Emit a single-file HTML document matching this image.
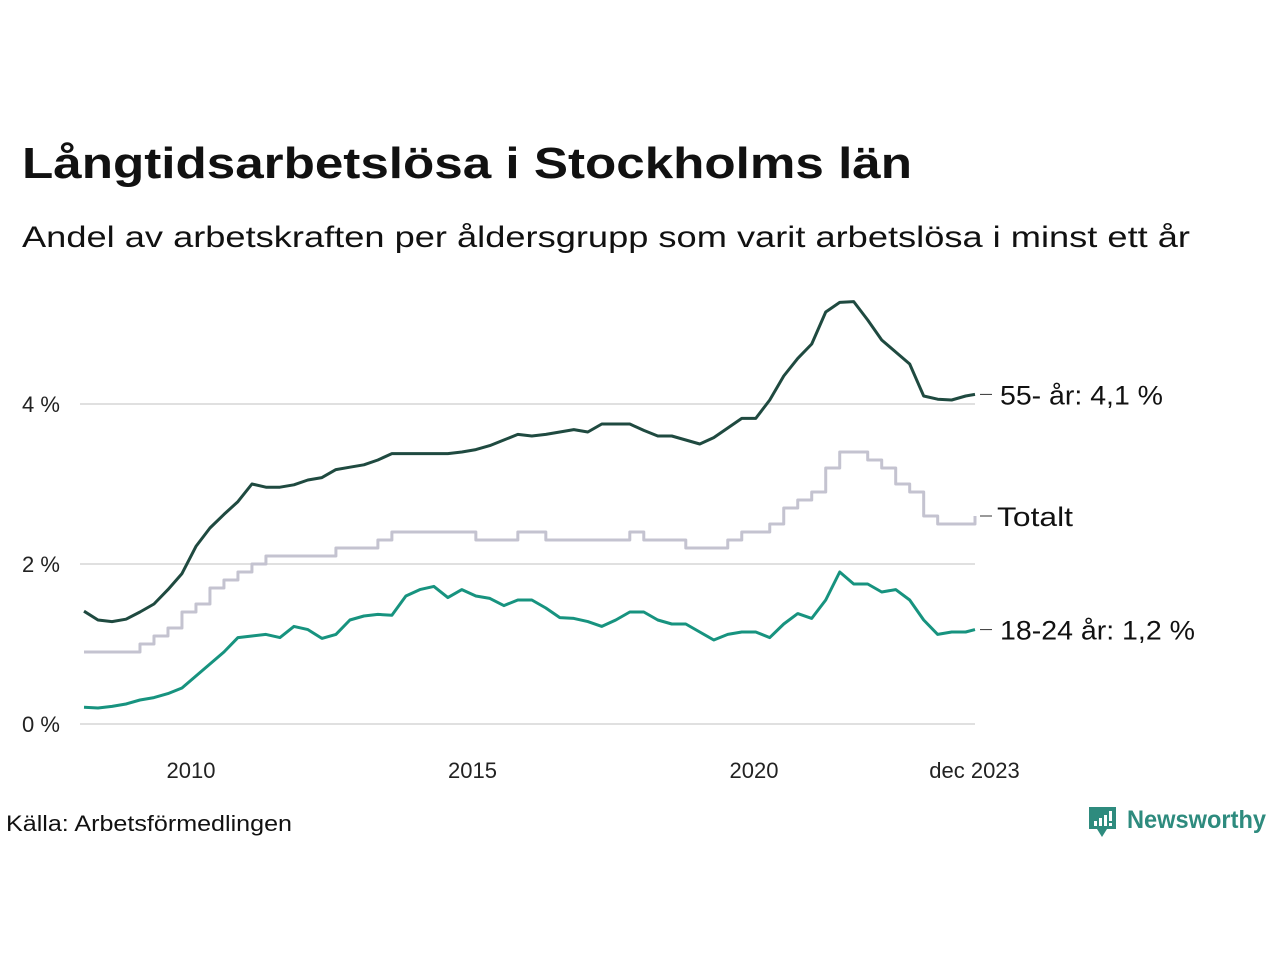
<!DOCTYPE html>
<html><head><meta charset="utf-8"><style>
body{margin:0;background:#fff;width:1280px;height:960px;overflow:hidden;font-family:"Liberation Sans",sans-serif}
svg text{font-family:"Liberation Sans",sans-serif}
</style></head><body>
<svg id="chart" width="1280" height="960" viewBox="0 0 1280 960" xmlns="http://www.w3.org/2000/svg">
<text x="22" y="178" font-size="44" font-weight="bold" fill="#111" textLength="890" lengthAdjust="spacingAndGlyphs">Långtidsarbetslösa i Stockholms län</text>
<text x="22" y="247" font-size="30" fill="#111" textLength="1168" lengthAdjust="spacingAndGlyphs">Andel av arbetskraften per åldersgrupp som varit arbetslösa i minst ett år</text>
<g id="grid"></g>
<g id="series"></g>
<g id="labels"></g>
<text x="6" y="831" font-size="22" fill="#111" textLength="286" lengthAdjust="spacingAndGlyphs">Källa: Arbetsförmedlingen</text>
<g>
<path d="M1089 807h27v22h-9l-5 8l-5-8h-8z" fill="#2e8b7e"/>
<rect x="1094" y="821" width="3" height="5" fill="#fff"/><rect x="1099" y="818" width="3" height="8" fill="#fff"/><rect x="1104" y="815" width="3" height="11" fill="#fff"/><rect x="1109" y="811" width="3" height="10" fill="#fff"/><rect x="1109" y="823" width="3" height="3" fill="#fff"/>
<text x="1127" y="828" font-size="25" font-weight="bold" fill="#2e8b7e" textLength="139" lengthAdjust="spacingAndGlyphs">Newsworthy</text>
</g>
</svg>
<script>
const yTicks=[0,2,4];
const yTickLabels=["0 %","2 %","4 %"];
const xTickYears=[2010,2015,2020,2023.917];
const xTickLabels=["2010","2015","2020","dec 2023"];
const seniors=[1.41,1.30,1.28,1.31,1.40,1.50,1.68,1.88,2.22,2.45,2.62,2.78,3.00,2.96,2.96,2.99,3.05,3.08,3.18,3.21,3.24,3.30,3.38,3.38,3.38,3.38,3.38,3.40,3.43,3.48,3.55,3.62,3.60,3.62,3.65,3.68,3.65,3.75,3.75,3.75,3.67,3.60,3.60,3.55,3.50,3.58,3.70,3.82,3.82,4.05,4.35,4.57,4.75,5.15,5.27,5.28,5.05,4.80,4.65,4.50,4.10,4.06,4.05,4.10,4.12];
const total=[0.9,0.9,0.9,0.9,1.0,1.1,1.2,1.4,1.5,1.7,1.8,1.9,2.0,2.1,2.1,2.1,2.1,2.1,2.2,2.2,2.2,2.3,2.4,2.4,2.4,2.4,2.4,2.4,2.3,2.3,2.3,2.4,2.4,2.3,2.3,2.3,2.3,2.3,2.3,2.4,2.3,2.3,2.3,2.2,2.2,2.2,2.3,2.4,2.4,2.5,2.7,2.8,2.9,3.2,3.4,3.4,3.3,3.2,3.0,2.9,2.6,2.5,2.5,2.5,2.6];
const youth=[0.21,0.20,0.22,0.25,0.30,0.33,0.38,0.45,0.60,0.75,0.90,1.08,1.10,1.12,1.08,1.22,1.18,1.07,1.12,1.30,1.35,1.37,1.36,1.60,1.68,1.72,1.58,1.68,1.60,1.57,1.48,1.55,1.55,1.45,1.33,1.32,1.28,1.22,1.30,1.40,1.40,1.30,1.25,1.25,1.15,1.05,1.12,1.15,1.15,1.08,1.25,1.38,1.32,1.55,1.90,1.75,1.75,1.65,1.68,1.55,1.30,1.12,1.15,1.15,1.18];
const seriesNames=["55- år: 4,1 %","Totalt","18-24 år: 1,2 %"];
const labelWidths=[163,76,195];
const NS="http://www.w3.org/2000/svg";
function xMonth(i){return 84+(i/191)*(975-84);}
function qIndex(k,n){return k===n-1?191:k*3;}
function yScale(v){return 724-v*80;}
function xYear(y){return 191+(y-2010)*56.3;}
const grid=document.getElementById('grid');
yTicks.forEach((t,i)=>{
 const l=document.createElementNS(NS,'line');
 
 
 l.setAttribute('x1',80);l.setAttribute('x2',975);l.setAttribute('y1',yScale(t));l.setAttribute('y2',yScale(t));
 l.setAttribute('stroke','#e0e0e0');l.setAttribute('stroke-width','2');grid.appendChild(l);
 const tx=document.createElementNS(NS,'text');
 
 
 tx.setAttribute('x',22);tx.setAttribute('y',yScale(t)+8);tx.setAttribute('font-size','22');tx.setAttribute('fill','#222');
 tx.textContent=yTickLabels[i];grid.appendChild(tx);
});
xTickYears.forEach((y,i)=>{
 const tx=document.createElementNS(NS,'text');
 
 
 tx.setAttribute('x',xYear(y));tx.setAttribute('y',778);tx.setAttribute('font-size','22');tx.setAttribute('fill','#222');tx.setAttribute('text-anchor','middle');
 tx.textContent=xTickLabels[i];grid.appendChild(tx);
});
const sg=document.getElementById('series');
function draw(data,color,name,step){
 let d='';const n=data.length;
 data.forEach((v,k)=>{const x=xMonth(qIndex(k,n)),y=yScale(v);
  if(k===0)d+='M'+x+' '+y;else if(step){d+='H'+x+'V'+y;}else d+='L'+x+' '+y;});
 const p=document.createElementNS(NS,'path');
 
 
 p.setAttribute('d',d);p.setAttribute('fill','none');p.setAttribute('stroke',color);p.setAttribute('stroke-width','3');p.setAttribute('stroke-linejoin','round');
 sg.appendChild(p);
}
draw(total,'#c4c3d0','line-total',true);
draw(youth,'#17937f','line-18-24',false);
draw(seniors,'#1f4a40','line-55-plus',false);
const lg=document.getElementById('labels');
[[seniors,0],[total,1],[youth,2]].forEach(([d,i])=>{
 const ly=yScale(d[d.length-1]);
 const l=document.createElementNS(NS,'line');
 
 
 l.setAttribute('x1',980);l.setAttribute('x2',992);l.setAttribute('y1',ly);l.setAttribute('y2',ly);l.setAttribute('stroke','#333');
 lg.appendChild(l);
 const t=document.createElementNS(NS,'text');
 
 
 t.setAttribute('x',i===1?997:1000);t.setAttribute('y',ly+10);t.setAttribute('font-size','27');t.setAttribute('fill','#111');
 t.setAttribute('textLength',labelWidths[i]);t.setAttribute('lengthAdjust','spacingAndGlyphs');
 t.textContent=seriesNames[i];lg.appendChild(t);
});
</script>
</body></html>
